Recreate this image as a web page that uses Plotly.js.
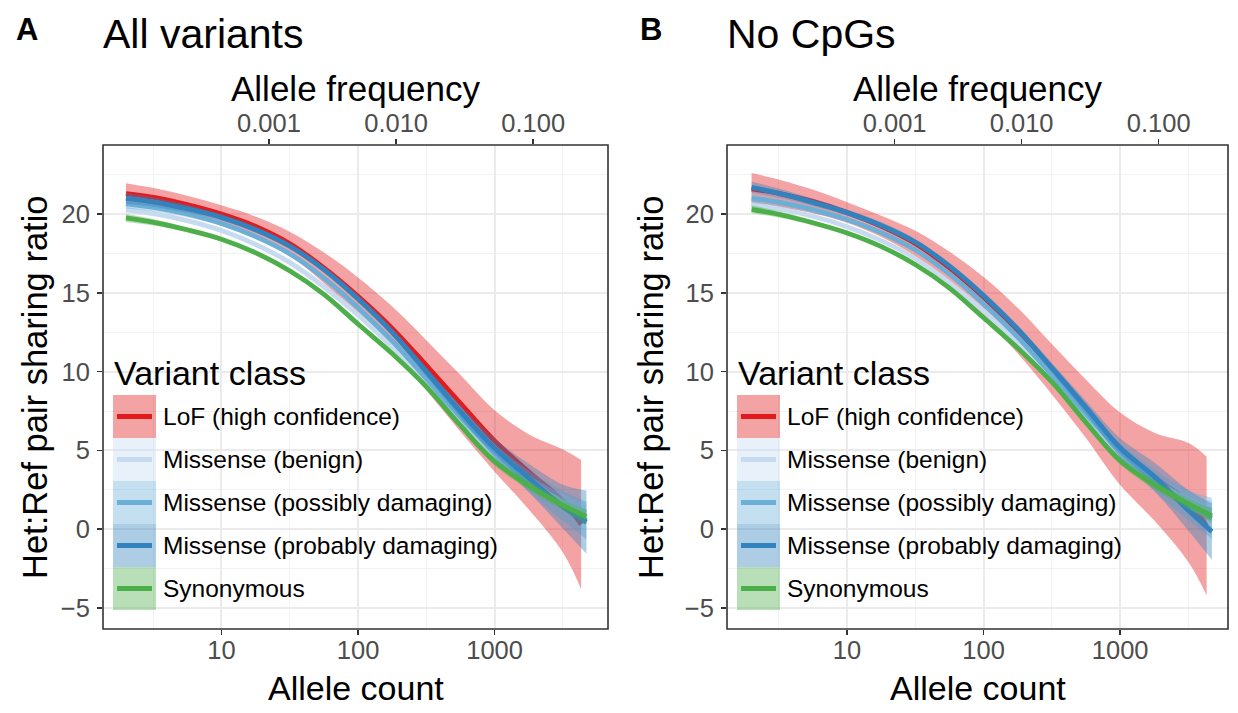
<!DOCTYPE html>
<html><head><meta charset="utf-8">
<script src="https://cdn.plot.ly/plotly-3.0.1.min.js"></script>
<style>body{margin:0;padding:0;background:#fff;} #chart{width:1238px;height:713px;}</style>
</head><body><div id="chart"></div>
<script>
const W = 1238, H = 713;
const FONT = '"Liberation Sans", Arial, Helvetica, sans-serif';

// ---- data ----
const counts    = [2,3.2,5.6,10,18,32,56,100,180,320,560,1000,1800,3200,4700];
const countsLoF = [2,3.2,5.6,10,18,32,56,100,180,320,560,1000,1800,3200,4300];
const classNames = ['LoF (high confidence)','Missense (benign)','Missense (possibly damaging)','Missense (probably damaging)','Synonymous'];
const classColors = ['#e31a1c','#c6dbef','#6baed6','#3182bd','#4daf4a'];
const classFillRGB = [[227,26,28],[198,219,239],[107,174,214],[49,130,189],[77,175,74]];

// Panel A: All variants (fit and half-width of confidence band)
const lofFitA = [21.3,21.05,20.6,20.0,19.2,18.1,16.6,14.78,12.7,10.35,8.0,5.6,3.6,1.75,0.3];
const lofCiA  = [0.66,0.6,0.56,0.55,0.62,0.75,0.98,1.2,1.4,1.6,1.8,1.95,2.4,3.3,4.1];
const benFitA = [20.27,20.02,19.58,18.95,18.05,16.9,15.4,13.6,11.5,9.2,6.9,4.7,3.0,1.7,1.05];
const benCiA  = [0.2,0.15,0.12,0.1,0.1,0.1,0.1,0.1,0.12,0.15,0.2,0.3,0.4,0.5,0.6];
const posFitA = [20.65,20.42,20.0,19.4,18.55,17.45,15.95,14.06,11.9,9.5,7.15,4.95,3.0,1.45,0.55];
const posCiA  = [0.3,0.25,0.2,0.15,0.15,0.15,0.15,0.2,0.2,0.25,0.3,0.45,0.7,0.95,1.2];
const proFitA = [21.0,20.76,20.34,19.79,18.99,17.94,16.49,14.62,12.45,9.95,7.5,5.15,3.22,1.4,0.45];
const proCiA  = [0.35,0.3,0.25,0.2,0.2,0.2,0.2,0.25,0.25,0.3,0.4,0.6,0.9,1.4,2.0];
const synFitA = [19.75,19.47,19.0,18.4,17.52,16.37,14.92,13.02,11.1,9.0,6.6,4.3,2.75,1.5,0.8];
const synCiA  = [0.25,0.2,0.15,0.12,0.12,0.12,0.12,0.15,0.15,0.2,0.2,0.25,0.3,0.35,0.45];

// Panel B: No CpGs
const lofFitB = [21.6,21.3,20.8,20.1,19.2,18.1,16.6,14.72,12.55,10.1,7.65,5.1,3.3,1.65,0.2];
const lofCiB  = [1.0,0.88,0.75,0.65,0.68,0.82,1.02,1.28,1.45,1.6,1.85,2.3,2.8,3.8,4.4];
const benFitB = [20.6,20.32,19.86,19.2,18.3,17.15,15.65,13.85,11.75,9.45,7.1,4.8,3.05,1.85,1.2];
const benCiB  = [0.2,0.15,0.12,0.1,0.1,0.1,0.1,0.1,0.12,0.15,0.2,0.3,0.4,0.5,0.6];
const posFitB = [21.0,20.74,20.28,19.65,18.8,17.7,16.2,14.31,12.15,9.75,7.35,5.0,3.05,1.5,0.7];
const posCiB  = [0.3,0.25,0.2,0.15,0.15,0.15,0.15,0.2,0.2,0.25,0.3,0.45,0.7,0.95,1.3];
const proFitB = [21.7,21.31,20.74,20.09,19.26,18.19,16.71,14.82,12.65,10.2,7.75,5.17,3.3,1.15,-0.15];
const proCiB  = [0.35,0.3,0.25,0.2,0.2,0.2,0.2,0.25,0.25,0.3,0.4,0.6,0.9,1.3,1.8];
const synFitB = [20.3,19.97,19.45,18.8,17.92,16.77,15.32,13.42,11.45,9.3,6.8,4.35,2.8,1.6,0.85];
const synCiB  = [0.25,0.2,0.15,0.12,0.12,0.12,0.12,0.15,0.15,0.2,0.2,0.25,0.3,0.35,0.45];

// ticks
const countTicks = [10,100,1000];
const countTickText = ['10','100','1000'];
const countMinorTicks = [3.1623,31.623,316.23,3162.3];
const freqTickText = ['0.001','0.010','0.100'];
const freqTickCounts = [22.3,190,1915];
const yTicks = [-5,0,5,10,15,20];
const yTickText = ['\u22125','0','5','10','15','20'];
const yMinorTicks = [-2.5,2.5,7.5,12.5,17.5,22.5];

const panelTitles = ['All variants','No CpGs'];
const panelTags = ['A','B'];

// ---- layout geometry (pixels) ----
const panelsPx = [{l:103,r:608,range:[0.133,3.83],ytitle:35},{l:727,r:1228,range:[0.121,3.79],ytitle:651}];
const plotTop = 145, plotBottom = 629;
const yRange = [-6.33, 24.38];

const px = v => v / W;
const py = v => 1 - v / H;

const traces = [];
function addPanel(xa, ya, topXa, fits, cis) {
  for (let i = 0; i < 5; i++) {
    const xs = i === 0 ? countsLoF : counts;
    const up = fits[i].map((v, k) => v + cis[i][k]);
    const lo = fits[i].map((v, k) => v - cis[i][k]);
    const rgba = 'rgba(' + classFillRGB[i].join(',') + ',0.4)';
    traces.push({x: xs, y: up, xaxis: xa, yaxis: ya, mode: 'lines',
      line: {width: 0, shape: 'spline', smoothing: 1, color: rgba}, hoverinfo: 'skip', showlegend: false});
    traces.push({x: xs, y: lo, xaxis: xa, yaxis: ya, mode: 'lines',
      line: {width: 0, shape: 'spline', smoothing: 1, color: rgba}, fill: 'tonexty', fillcolor: rgba,
      hoverinfo: 'skip', showlegend: false});
    traces.push({x: xs, y: fits[i], xaxis: xa, yaxis: ya, mode: 'lines', name: classNames[i],
      line: {width: 4.8, color: classColors[i], shape: 'spline', smoothing: 1}, showlegend: false});
  }
  // empty companion trace so that the secondary (allele frequency) axis is drawn
  traces.push({x: [counts[0], counts[counts.length - 1]], y: [null, null], xaxis: topXa, yaxis: ya,
    mode: 'lines', hoverinfo: 'skip', showlegend: false});
}
addPanel('x', 'y', 'x2', [lofFitA, benFitA, posFitA, proFitA, synFitA], [lofCiA, benCiA, posCiA, proCiA, synCiA]);
addPanel('x3', 'y2', 'x4', [lofFitB, benFitB, posFitB, proFitB, synFitB], [lofCiB, benCiB, posCiB, proCiB, synCiB]);

const tickFont = {family: FONT, size: 25.5, color: '#4d4d4d'};
const yDomain = [py(plotBottom), py(plotTop)];

function bottomAxis(p, anchor) {
  return {type: 'log', range: panelsPx[p].range, domain: [px(panelsPx[p].l), px(panelsPx[p].r)], anchor: anchor,
    tickmode: 'array', tickvals: countTicks, ticktext: countTickText,
    ticks: 'outside', ticklen: 5, tickwidth: 1.5, tickcolor: '#333333', tickfont: tickFont,
    ticklabelstandoff: -7,
    showgrid: true, gridcolor: '#ebebeb', gridwidth: 2,
    minor: {tickmode: 'array', tickvals: countMinorTicks, showgrid: true, gridcolor: '#f2f2f2', gridwidth: 1, ticks: ''},
    zeroline: false, showline: false, fixedrange: true};
}
function topAxis(p, over, anchor) {
  return {type: 'log', range: panelsPx[p].range, overlaying: over, anchor: anchor, side: 'top',
    tickmode: 'array', tickvals: freqTickCounts, ticktext: freqTickText,
    ticks: 'outside', ticklen: 5, tickwidth: 1.5, tickcolor: '#333333', tickfont: tickFont,
    ticklabelstandoff: -3,
    showgrid: false, zeroline: false, showline: false, fixedrange: true};
}
function leftAxis(anchor) {
  return {range: yRange, domain: yDomain, anchor: anchor,
    tickmode: 'array', tickvals: yTicks, ticktext: yTickText,
    ticks: 'outside', ticklen: 5, tickwidth: 1.5, tickcolor: '#333333', tickfont: tickFont,
    ticklabelstandoff: 2,
    showgrid: true, gridcolor: '#ebebeb', gridwidth: 2,
    minor: {tickmode: 'array', tickvals: yMinorTicks, showgrid: true, gridcolor: '#f2f2f2', gridwidth: 1, ticks: ''},
    zeroline: false, showline: false, fixedrange: true};
}

const shapes = [];
const annotations = [];
const axisTitleFont = {family: FONT, size: 35, color: '#000'};

[0, 1].forEach(p => {
  const L = panelsPx[p].l, R = panelsPx[p].r, cx = (L + R) / 2;
  const xd = p === 0 ? 'x domain' : 'x3 domain';
  const yd = p === 0 ? 'y domain' : 'y2 domain';
  // panel border
  shapes.push({type: 'rect', xref: xd, yref: yd, x0: 0, x1: 1, y0: 0, y1: 1,
    line: {color: '#333333', width: 1.6}, fillcolor: 'rgba(0,0,0,0)', layer: 'above'});
  // tag and title
  annotations.push({xref: 'paper', yref: 'paper', x: px(L - 89), y: py(29), xanchor: 'left', yanchor: 'middle',
    text: '<b>' + panelTags[p] + '</b>', showarrow: false, font: {family: FONT, size: 31, color: '#000'}});
  annotations.push({xref: 'paper', yref: 'paper', x: px(L - 2), y: py(34), xanchor: 'left', yanchor: 'middle',
    text: panelTitles[p], showarrow: false, font: {family: FONT, size: 41, color: '#000'}});
  // axis titles
  annotations.push({xref: 'paper', yref: 'paper', x: px(cx), y: py(88), xanchor: 'center', yanchor: 'middle',
    text: 'Allele frequency', showarrow: false, font: axisTitleFont});
  annotations.push({xref: 'paper', yref: 'paper', x: px(cx), y: py(688), xanchor: 'center', yanchor: 'middle',
    text: 'Allele count', showarrow: false, font: {family: FONT, size: 34, color: '#000'}});
  annotations.push({xref: 'paper', yref: 'paper', x: px(panelsPx[p].ytitle), y: py((plotTop + plotBottom) / 2), xanchor: 'center', yanchor: 'middle',
    text: 'Het:Ref pair sharing ratio', textangle: -90, showarrow: false, font: {family: FONT, size: 34.5, color: '#000'}});
  // legend
  const lx = L + 10, top = 395, rowH = 43;
  annotations.push({xref: 'paper', yref: 'paper', x: px(lx - 1), y: py(373), xanchor: 'left', yanchor: 'middle',
    text: 'Variant class', showarrow: false, font: {family: FONT, size: 34, color: '#000'}});
  for (let i = 0; i < 5; i++) {
    const y0 = top + i * rowH, yc = y0 + rowH / 2;
    shapes.push({type: 'rect', xref: 'paper', yref: 'paper', x0: px(lx), x1: px(lx + 43), y0: py(y0), y1: py(y0 + rowH),
      line: {width: 0}, fillcolor: 'rgba(' + classFillRGB[i].join(',') + ',0.4)', layer: 'above'});
    shapes.push({type: 'line', xref: 'paper', yref: 'paper', x0: px(lx + 4), x1: px(lx + 39), y0: py(yc), y1: py(yc),
      line: {width: 4.8, color: classColors[i]}, layer: 'above'});
    annotations.push({xref: 'paper', yref: 'paper', x: px(lx + 48), y: py(yc), xanchor: 'left', yanchor: 'middle',
      text: classNames[i], showarrow: false, font: {family: FONT, size: 24.5, color: '#000'}});
  }
});

const layout = {
  width: W, height: H,
  margin: {l: 0, r: 0, t: 0, b: 0},
  paper_bgcolor: '#ffffff', plot_bgcolor: '#ffffff',
  font: {family: FONT},
  showlegend: false,
  xaxis: bottomAxis(0, 'y'),
  xaxis2: topAxis(0, 'x', 'y'),
  yaxis: leftAxis('x'),
  xaxis3: bottomAxis(1, 'y2'),
  xaxis4: topAxis(1, 'x3', 'y2'),
  yaxis2: leftAxis('x3'),
  shapes: shapes,
  annotations: annotations
};

Plotly.newPlot('chart', traces, layout, {staticPlot: true, displayModeBar: false});
</script>
</body></html>
